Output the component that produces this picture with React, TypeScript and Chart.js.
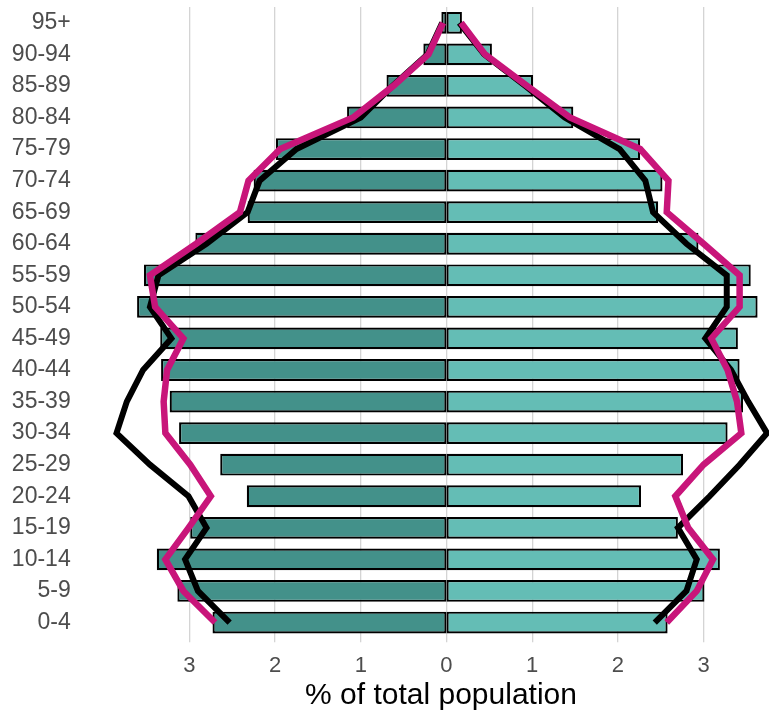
import React, { useEffect, useRef } from "react";
import { Chart, registerables } from "chart.js";

Chart.register(...registerables);

const ageGroups = ["0-4","5-9","10-14","15-19","20-24","25-29","30-34","35-39","40-44","45-49","50-54","55-59","60-64","65-69","70-74","75-79","80-84","85-89","90-94","95+"];

// % of total population (bars)
const maleBars = [2.73,3.14,3.38,2.99,2.33,2.64,3.12,3.23,3.33,3.34,3.61,3.53,2.93,2.32,2.25,1.99,1.16,0.70,0.27,0.06];
const femaleBars = [2.58,3.01,3.19,2.70,2.27,2.76,3.28,3.46,3.42,3.40,3.63,3.55,2.94,2.47,2.52,2.26,1.48,1.01,0.53,0.18];

// comparison population 1 (black lines)
const maleBlack = [2.53,2.90,3.05,2.80,3.01,3.46,3.85,3.73,3.54,3.21,3.46,3.36,2.80,2.32,2.18,1.75,1.00,0.63,0.22,0.05];
const femaleBlack = [2.43,2.80,2.92,2.70,3.07,3.42,3.74,3.52,3.32,3.02,3.27,3.27,2.80,2.41,2.32,2.02,1.38,0.92,0.44,0.15];

// comparison population 2 (magenta lines)
const maleMagenta = [2.70,3.07,3.28,3.01,2.75,2.99,3.28,3.30,3.26,3.07,3.40,3.46,2.92,2.41,2.31,1.94,1.09,0.62,0.21,0.04];
const femaleMagenta = [2.57,2.92,3.11,2.82,2.67,3.00,3.44,3.39,3.28,3.09,3.42,3.42,3.00,2.57,2.59,2.26,1.44,0.94,0.45,0.17];

const xTicks = [-3, -2, -1, 0, 1, 2, 3];
const xMin = -3.891;
const xMax = 3.763;

const FONT = "'Liberation Sans', Arial, Helvetica, sans-serif";
const GRID = "#D4D4D4";

export default function App() {
  const ref = useRef<HTMLCanvasElement | null>(null);

  useEffect(() => {
    if (!ref.current) return;
    const neg = (a: number[]) => a.map((v) => -v);
    const lineBase = {
      type: "line" as const,
      pointRadius: 0,
      pointHoverRadius: 0,
      tension: 0,
      fill: false,
      borderCapStyle: "butt" as const,
      borderJoinStyle: "miter" as const,
    };
    const barBase = {
      borderColor: "#000000",
      borderWidth: 2.2,
      borderSkipped: false,
      grouped: false,
      barPercentage: 0.69,
      categoryPercentage: 1,
      order: 3,
    };
    const chart = new Chart(ref.current, {
      type: "bar",
      data: {
        labels: ageGroups,
        datasets: [
          { ...barBase, label: "Male", data: neg(maleBars), backgroundColor: "#43918A" } as any,
          { ...barBase, label: "Female", data: femaleBars, backgroundColor: "#64BDB5" } as any,
          { ...lineBase, label: "Male ref 1", data: neg(maleBlack), borderColor: "#000000", borderWidth: 6, order: 2 } as any,
          { ...lineBase, label: "Female ref 1", data: femaleBlack, borderColor: "#000000", borderWidth: 6, order: 2 } as any,
          { ...lineBase, label: "Male ref 2", data: neg(maleMagenta), borderColor: "#C8157A", borderWidth: 6.5, order: 1 } as any,
          { ...lineBase, label: "Female ref 2", data: femaleMagenta, borderColor: "#C8157A", borderWidth: 6.5, order: 1 } as any,
        ],
      },
      options: {
        indexAxis: "y",
        animation: false,
        responsive: true,
        maintainAspectRatio: false,
        layout: { padding: { top: 7, bottom: 0, left: 0, right: 0 } },
        plugins: {
          legend: { display: false },
          tooltip: { enabled: false },
          title: { display: false },
        },
        scales: {
          x: {
            type: "linear",
            min: xMin,
            max: xMax,
            weight: 1,
            afterBuildTicks: (scale: any) => {
              scale.ticks = xTicks.map((v) => ({ value: v }));
            },
            afterFit: (scale: any) => {
              scale.height = 714 - 638.3;
              scale.paddingLeft = 0;
              scale.paddingRight = 0;
            },
            border: { display: false },
            grid: {
              color: GRID,
              lineWidth: (c: any) => (c.tick && c.tick.value === 0 ? 0 : 1.3),
              drawTicks: true,
              tickLength: 4,
              tickColor: GRID,
            },
            ticks: {
              padding: 10,
              color: "#4D4D4D",
              font: { family: FONT, size: 22 },
              callback: (v: any) => String(Math.abs(Number(v))),
            },
            title: {
              display: true,
              text: "% of total population",
              color: "#000000",
              font: { family: FONT, size: 30 },
              padding: { top: 0, bottom: 0 },
            },
          },
          xZero: {
            type: "linear",
            position: "bottom",
            min: xMin,
            max: xMax,
            weight: 0,
            afterBuildTicks: (scale: any) => {
              scale.ticks = [{ value: 0 }];
            },
            afterFit: (scale: any) => {
              scale.height = 0;
              scale.paddingLeft = 0;
              scale.paddingRight = 0;
            },
            border: { display: false },
            grid: { color: GRID, lineWidth: 1.3, drawTicks: true, tickLength: 4, tickColor: GRID },
            ticks: { display: false },
          },
          y: {
            type: "category",
            reverse: true,
            offset: true,
            afterFit: (scale: any) => {
              scale.width = 113;
              scale.paddingTop = 0;
              scale.paddingBottom = 0;
            },
            border: { display: false },
            grid: { display: false, drawTicks: false },
            ticks: {
              padding: 42.3,
              color: "#4D4D4D",
              font: { family: FONT, size: 23 },
              autoSkip: false,
            },
          },
        },
      },
    });
    return () => chart.destroy();
  }, []);

  return (
    <div style={{ position: "fixed", left: 0, top: 0, width: 769, height: 714, background: "#fff" }}>
      <canvas ref={ref} />
    </div>
  );
}
